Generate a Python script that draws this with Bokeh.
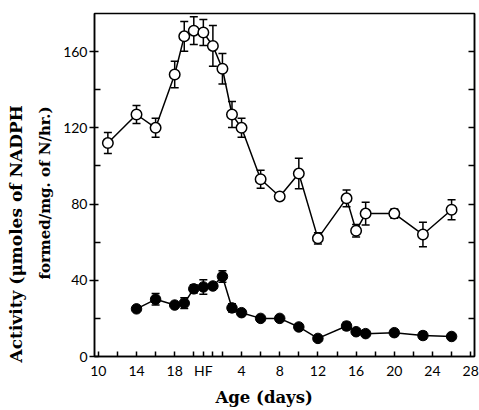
from bokeh.plotting import figure
from bokeh.models import (Range1d, LinearAxis, FixedTicker, ColumnDataSource,
                          Whisker, TeeHead, Title)
from bokeh.embed import file_html
from bokeh.resources import INLINE

# ---- data ----
HATCH = 21  # embryonic day at which hatching (HF) occurs

open_embryo_days = [11, 14, 16, 18, 19, 20]
open_embryo_activity = [112, 127, 120, 148, 168, 171]
open_embryo_sem = [5.5, 4.7, 5.0, 7.0, 7.8, 7.3]
open_post_days = [0, 1, 2, 3, 4, 6, 8, 10, 12, 15, 16, 17, 20, 23, 26]
open_post_activity = [170, 163, 151, 127, 120, 93, 84, 96, 62, 83, 66, 75, 75, 64, 77]
open_post_sem = [6.8, 10.7, 8.0, 6.8, 5.0, 4.7, 0, 8.0, 3.0, 4.4, 3.3, 6.0, 2.4, 6.4, 5.2]

closed_embryo_days = [14, 16, 18, 19, 20]
closed_embryo_activity = [25, 30, 27, 28, 35.5]
closed_embryo_sem = [0, 3.0, 0, 2.8, 2.2]
closed_post_days = [0, 1, 2, 3, 4, 6, 8, 10, 12, 15, 16, 17, 20, 23, 26]
closed_post_activity = [36.5, 37, 42, 25.5, 23, 20, 20, 15.5, 9.5, 16, 13, 12, 12.5, 11, 10.5]
closed_post_sem = [3.8, 0, 3.0, 2.2, 0, 0, 0, 1.7, 0, 2.0, 0, 0, 1.6, 2.0, 0]

embryo_label_days = [10, 14, 18]
embryo_minor_days = [12, 16, 20]
post_label_days = [0, 4, 8, 12, 16, 20, 24, 28]
post_label_text = ["HF", "4", "8", "12", "16", "20", "24", "28"]
post_minor_days = [1, 2, 6, 10, 14, 18, 22, 26]

y_major = [0, 40, 80, 120, 160]
y_minor = [20, 60, 100, 140]
y_right = [20, 40, 60, 80, 100, 120, 140, 160]

x_label = "Age (days)"
y_label_1 = "Activity (\u03bcmoles of NADPH"
y_label_2 = "formed/mg. of N/hr.)"


def series(e_days, e_vals, e_err, p_days, p_vals, p_err):
    x = list(e_days) + [HATCH + d for d in p_days]
    y = list(e_vals) + list(p_vals)
    err = list(e_err) + list(p_err)
    line = ColumnDataSource(dict(x=x, y=y))
    wx, wl, wu = [], [], []
    for xi, yi, ei in zip(x, y, err):
        if ei > 0:
            wx.append(xi); wl.append(yi - ei); wu.append(yi + ei)
    wh = ColumnDataSource(dict(x=wx, lower=wl, upper=wu))
    return line, wh


open_src, open_wh = series(open_embryo_days, open_embryo_activity, open_embryo_sem,
                           open_post_days, open_post_activity, open_post_sem)
closed_src, closed_wh = series(closed_embryo_days, closed_embryo_activity, closed_embryo_sem,
                               closed_post_days, closed_post_activity, closed_post_sem)

p = figure(width=479, height=410, output_backend="svg", toolbar_location=None,
           x_range=Range1d(9.6, 49.4), y_range=Range1d(0, 180),
           min_border_left=94, min_border_right=5, min_border_top=13,
           min_border_bottom=53)
p.xgrid.visible = False
p.ygrid.visible = False
p.outline_line_color = "black"
p.outline_line_width = 1.5
p.outline_line_alpha = 1.0
p.background_fill_color = "white"
p.border_fill_color = "white"

# x axis: labelled major ticks, unlabelled minor ticks, all pointing inward
x_major = list(embryo_label_days) + [HATCH + d for d in post_label_days]
x_minor = list(embryo_minor_days) + [HATCH + d for d in post_minor_days]
xa = p.xaxis[0]
xa.ticker = FixedTicker(ticks=x_major, minor_ticks=x_minor)
xa.major_label_overrides = {HATCH + d: t for d, t in zip(post_label_days, post_label_text)}
xa.major_tick_in = 5
xa.major_tick_out = 0
xa.minor_tick_in = 5
xa.minor_tick_out = 0
xa.major_tick_line_width = 1.5
xa.minor_tick_line_width = 1.5
xa.axis_line_width = 1.5
xa.major_label_standoff = 5
xa.major_label_text_font = "Lato"
xa.major_label_text_font_size = "14px"
xa.major_label_text_color = "black"

# y axis
ya = p.yaxis[0]
ya.ticker = FixedTicker(ticks=y_major, minor_ticks=y_minor)
ya.major_tick_in = 4
ya.major_tick_out = 5
ya.minor_tick_in = 6
ya.minor_tick_out = 0
ya.major_tick_line_width = 1.5
ya.minor_tick_line_width = 1.5
ya.axis_line_width = 1.5
ya.major_label_standoff = 2
ya.major_label_text_font = "Lato"
ya.major_label_text_font_size = "14px"
ya.major_label_text_color = "black"

# right axis: inward ticks only, no labels
ra = LinearAxis(ticker=FixedTicker(ticks=[], minor_ticks=y_right),
                minor_tick_in=6, minor_tick_out=0, minor_tick_line_width=1.5,
                major_tick_in=0, major_tick_out=0,
                axis_line_width=1.5)
p.add_layout(ra, "right")

# axis titles (align="left" so that offset positions the start of the text)
serif = "DejaVu Serif"
p.add_layout(Title(text=x_label, align="left", offset=121, standoff=8,
                   text_font=serif, text_font_style="bold",
                   text_font_size="16.5px", text_color="black"), "below")
p.add_layout(Title(text=y_label_2, align="left", offset=77, standoff=14,
                   text_font=serif, text_font_style="bold",
                   text_font_size="15px", text_color="black"), "left")
p.add_layout(Title(text=y_label_1, align="left", offset=-6, standoff=2,
                   text_font=serif, text_font_style="bold",
                   text_font_size="17px", text_color="black"), "left")

# closed series
p.line("x", "y", source=closed_src, line_color="black", line_width=1.5)
p.add_layout(Whisker(source=closed_wh, base="x", lower="lower", upper="upper",
                     dimension="height", line_color="black", line_width=1.5,
                     level="underlay",
                     upper_head=TeeHead(size=8, line_width=1.5, line_color="black"),
                     lower_head=TeeHead(size=8, line_width=1.5, line_color="black")))
p.scatter("x", "y", source=closed_src, size=10.5, marker="circle",
          fill_color="black", line_color="black", line_width=1)

# open series
p.line("x", "y", source=open_src, line_color="black", line_width=1.5)
p.add_layout(Whisker(source=open_wh, base="x", lower="lower", upper="upper",
                     dimension="height", line_color="black", line_width=1.5,
                     level="underlay",
                     upper_head=TeeHead(size=8, line_width=1.5, line_color="black"),
                     lower_head=TeeHead(size=8, line_width=1.5, line_color="black")))
p.scatter("x", "y", source=open_src, size=10.5, marker="circle",
          fill_color="white", line_color="black", line_width=1.5)

open("out.html", "w").write(file_html(p, INLINE))
